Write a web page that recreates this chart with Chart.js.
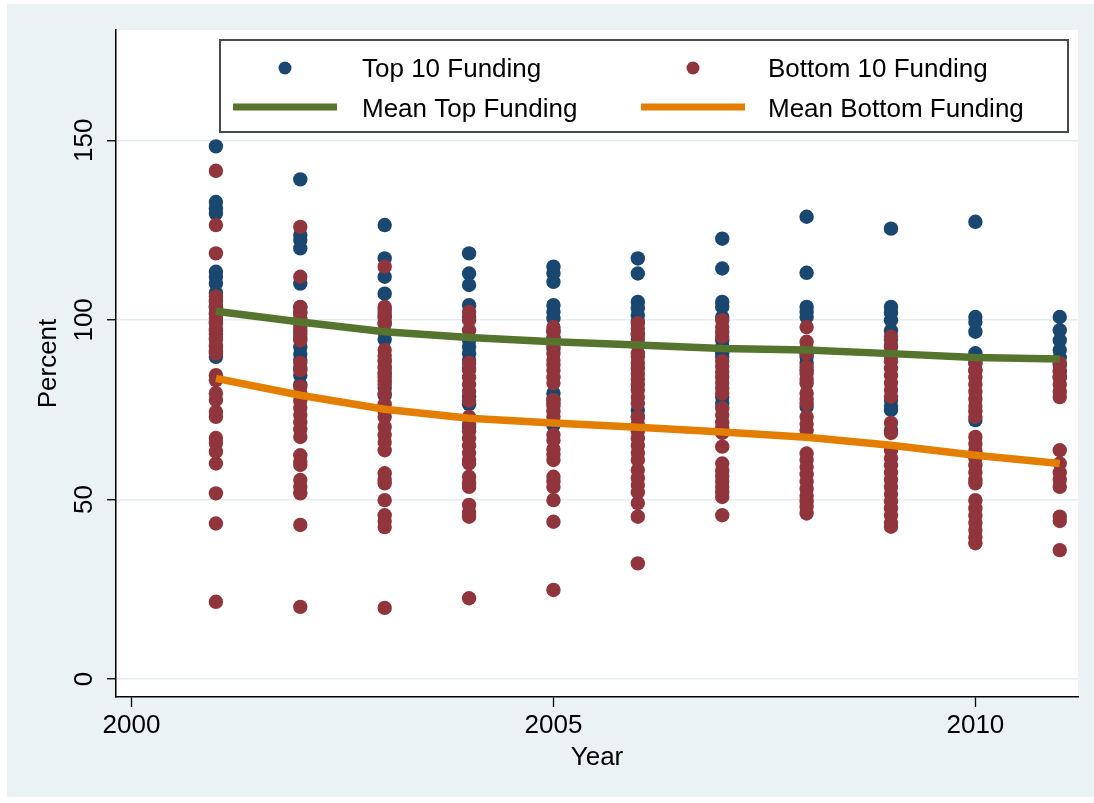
<!DOCTYPE html>
<html>
<head>
<meta charset="utf-8">
<script src="https://cdn.jsdelivr.net/npm/chart.js@4/dist/chart.umd.min.js"></script>
<style>
  html, body { margin: 0; padding: 0; background: #ffffff; }
  #wrap { width: 1094px; height: 803px; }
</style>
</head>
<body>
<div id="wrap"><canvas id="c" width="1094" height="803"></canvas></div>
<script>
// ---- Data ----
const years = [2001, 2002, 2003, 2004, 2005, 2006, 2007, 2008, 2009, 2010, 2011];

const topFunding = [
  [148.3, 132.8, 131.0, 129.6, 113.4, 112.0, 110.1, 107.5, 105.5, 103.5, 101.5, 99.5, 97.0, 95.0, 92.5, 91.1, 89.7],
  [139.1, 123.6, 122.2, 119.9, 110.1, 103.5, 102.0, 100.5, 99.0, 97.0, 95.0, 92.5, 90.5, 88.8, 86.5, 84.5, 82.0],
  [126.4, 117.1, 112.0, 107.3, 103.0, 101.0, 99.0, 96.5, 94.5, 88.8, 86.6, 85.0, 83.0, 81.0, 79.0],
  [118.5, 112.9, 109.7, 104.1, 100.8, 94.3, 92.5, 90.6, 88.8, 86.6, 78.6, 76.5, 70.2],
  [114.8, 112.9, 110.6, 104.1, 102.2, 100.4, 97.0, 95.0, 92.0, 79.6, 78.0, 76.8, 70.7],
  [117.1, 112.9, 105.0, 103.2, 101.3, 99.5, 96.0, 93.0, 74.9, 73.0],
  [122.6, 114.3, 105.0, 103.6, 100.8, 94.3, 92.5, 90.7, 89.7, 78.5, 76.7],
  [128.7, 113.1, 103.6, 102.2, 100.8, 90.7, 89.7, 88.0, 86.0, 75.8],
  [125.4, 103.6, 102.0, 99.9, 97.0, 94.5, 92.5, 90.0, 77.7, 76.0, 74.9, 69.3],
  [127.3, 100.8, 99.4, 96.7, 90.7, 89.7, 88.0, 86.0, 72.1],
  [100.8, 97.1, 94.3, 91.6, 89.5, 87.5, 85.5, 84.0]
];

const bottomFunding = [
  [141.5, 126.4, 118.5, 106.5, 105.0, 103.5, 102.0, 100.5, 99.0, 97.5, 96.0, 94.5, 93.0, 91.6, 90.6, 84.6, 83.2, 79.6, 77.7, 74.4, 73.0, 67.1, 65.7, 63.3, 60.0, 51.7, 43.3, 21.5],
  [125.9, 112.0, 103.6, 102.0, 100.0, 98.0, 96.0, 94.3, 88.0, 86.0, 81.4, 79.5, 77.5, 75.5, 73.5, 71.5, 69.5, 67.4, 62.3, 60.5, 59.6, 55.4, 53.5, 51.7, 42.9, 20.1],
  [114.8, 103.6, 102.0, 100.5, 99.0, 91.6, 90.0, 88.5, 87.0, 85.5, 84.0, 82.0, 79.6, 76.5, 74.5, 73.0, 70.2, 68.0, 66.0, 63.7, 57.3, 55.5, 54.5, 49.8, 45.6, 44.0, 42.3, 19.8],
  [102.2, 99.9, 97.1, 88.0, 86.0, 84.0, 82.0, 80.0, 77.5, 73.0, 71.0, 69.0, 67.0, 65.0, 63.0, 61.0, 60.0, 56.3, 54.5, 53.5, 48.5, 46.5, 45.2, 22.5],
  [98.0, 96.5, 95.0, 93.0, 90.6, 88.8, 87.5, 86.0, 84.0, 82.4, 77.7, 76.0, 74.5, 73.0, 68.0, 66.5, 64.0, 62.5, 61.0, 56.3, 55.0, 53.5, 49.8, 43.8, 24.8],
  [99.1, 97.5, 96.0, 94.5, 93.0, 90.7, 89.7, 88.0, 86.5, 85.0, 83.5, 82.0, 80.5, 78.5, 76.7, 73.0, 71.0, 69.0, 67.0, 65.0, 63.0, 61.0, 58.2, 56.0, 54.0, 52.0, 49.0, 45.2, 32.2],
  [99.9, 98.0, 96.5, 95.3, 88.5, 87.0, 85.5, 84.0, 82.5, 81.0, 79.5, 75.4, 73.5, 71.5, 70.0, 68.5, 64.7, 60.0, 58.0, 56.5, 55.0, 53.5, 52.0, 50.7, 45.6],
  [98.0, 93.9, 92.0, 90.6, 86.9, 85.0, 83.5, 82.3, 79.6, 78.0, 76.7, 73.0, 71.0, 69.3, 62.8, 61.0, 59.0, 57.0, 55.0, 53.0, 51.0, 49.5, 48.0, 46.1],
  [95.3, 93.0, 90.6, 88.5, 86.5, 84.5, 82.5, 80.5, 78.6, 71.3, 68.5, 63.7, 61.5, 59.5, 57.5, 55.5, 53.5, 51.5, 49.5, 47.5, 45.5, 43.5, 42.4],
  [87.9, 86.0, 84.0, 82.0, 80.0, 78.0, 76.0, 74.5, 73.0, 67.4, 65.5, 63.5, 61.5, 59.5, 57.5, 55.5, 54.5, 49.8, 47.5, 45.5, 43.5, 41.5, 39.5, 37.8],
  [87.9, 86.0, 84.0, 82.0, 80.0, 78.5, 63.7, 60.0, 57.5, 55.5, 53.5, 45.2, 44.0, 35.9]
];

const meanTop    = [102.4, 99.4, 96.7, 95.1, 93.9, 93.0, 92.0, 91.6, 90.6, 89.5, 89.1];
const meanBottom = [83.7, 79.0, 75.1, 72.6, 71.3, 70.1, 68.8, 67.3, 65.1, 62.3, 60.0];

const seriesLabels = ['Top 10 Funding', 'Bottom 10 Funding', 'Mean Top Funding', 'Mean Bottom Funding'];
const xTicks = [2000, 2005, 2010];
const yTicks = [0, 50, 100, 150];
const xTitle = 'Year';
const yTitle = 'Percent';

// ---- Styles ----
const NAVY = '#1a476f', MAROON = '#90353b', GREEN = '#55752f', ORANGE = '#e37e00';
const BG = '#eaf2f3';
const FONT = '"Liberation Sans", Arial, Helvetica, sans-serif';
Chart.defaults.font.family = FONT;
Chart.defaults.color = '#000';

const topPoints = years.flatMap((yr, i) => topFunding[i].map(v => ({ x: yr, y: v })));
const bottomPoints = years.flatMap((yr, i) => bottomFunding[i].map(v => ({ x: yr, y: v })));
const meanTopPoints = years.map((yr, i) => ({ x: yr, y: meanTop[i] }));
const meanBottomPoints = years.map((yr, i) => ({ x: yr, y: meanBottom[i] }));

const backgroundPlugin = {
  id: 'stataBackground',
  beforeDraw(chart) {
    const ctx = chart.ctx, a = chart.chartArea;
    ctx.save();
    ctx.fillStyle = '#ffffff';
    ctx.fillRect(0, 0, chart.width, chart.height);
    ctx.fillStyle = BG;
    ctx.fillRect(7, 4, chart.width - 7, 793);
    ctx.fillStyle = '#ffffff';
    ctx.fillRect(a.left, a.top, a.right - a.left, a.bottom - a.top);
    ctx.restore();
  }
};

const legendPlugin = {
  id: 'stataLegend',
  afterDraw(chart) {
    const ctx = chart.ctx;
    const ds = chart.data.datasets;
    ctx.save();
    ctx.fillStyle = '#ffffff';
    ctx.fillRect(220, 40, 848, 92);
    ctx.strokeStyle = '#4a4a4a';
    ctx.lineWidth = 2;
    ctx.strokeRect(220, 40, 848, 92);
    const cols = [{ mx: 285, tx: 362 }, { mx: 693, tx: 768 }];
    const rows = [{ my: 68, ty: 70 }, { my: 107, ty: 110 }];
    const layout = [[0, 1], [2, 3]];
    ctx.font = '26px ' + FONT;
    ctx.textBaseline = 'middle';
    ctx.textAlign = 'left';
    for (let r = 0; r < 2; r++) {
      for (let c = 0; c < 2; c++) {
        const d = ds[layout[r][c]];
        const { mx, tx } = cols[c];
        const { my, ty } = rows[r];
        if (d.showLine) {
          ctx.strokeStyle = d.borderColor;
          ctx.lineWidth = 7;
          ctx.beginPath();
          ctx.moveTo(mx - 52, my);
          ctx.lineTo(mx + 52, my);
          ctx.stroke();
        } else {
          ctx.fillStyle = d.backgroundColor;
          ctx.beginPath();
          ctx.arc(mx, my, 6.5, 0, Math.PI * 2);
          ctx.fill();
        }
        ctx.fillStyle = '#000';
        ctx.fillText(d.label, tx, ty);
      }
    }
    ctx.restore();
  }
};

new Chart(document.getElementById('c'), {
  type: 'scatter',
  data: {
    datasets: [
      { label: seriesLabels[0], data: topPoints, backgroundColor: NAVY, borderColor: NAVY,
        pointRadius: 7.2, borderWidth: 0, order: 3 },
      { label: seriesLabels[1], data: bottomPoints, backgroundColor: MAROON, borderColor: MAROON,
        pointRadius: 7.2, borderWidth: 0, order: 2 },
      { label: seriesLabels[2], data: meanTopPoints, showLine: true, borderColor: GREEN, backgroundColor: GREEN,
        borderWidth: 7.5, pointRadius: 0, tension: 0, order: 1 },
      { label: seriesLabels[3], data: meanBottomPoints, showLine: true, borderColor: ORANGE, backgroundColor: ORANGE,
        borderWidth: 7.5, pointRadius: 0, tension: 0, order: 0 }
    ]
  },
  options: {
    responsive: false,
    animation: false,
    devicePixelRatio: 1,
    layout: { padding: { left: 0, top: 30, right: 16, bottom: 0 }, autoPadding: false },
    plugins: { legend: { display: false }, tooltip: { enabled: false } },
    scales: {
      x: {
        type: 'linear',
        min: 1999.816,
        max: 2011.216,
        afterBuildTicks: s => { s.ticks = xTicks.map(v => ({ value: v })); },
        afterFit: s => { s.height = 106; },
        grid: { drawOnChartArea: false, drawTicks: true, tickLength: 10, tickColor: '#000', tickWidth: 1.3 },
        border: { display: true, color: '#000', width: 1.5 },
        ticks: { font: { size: 26 }, color: '#000', padding: 3, autoSkip: false, maxRotation: 0, minRotation: 0,
                 callback: v => String(v) },
        title: { display: true, text: xTitle, font: { size: 26 }, color: '#000', padding: { top: 0, bottom: 30 } }
      },
      y: {
        type: 'linear',
        min: -5,
        max: 180.7,
        afterBuildTicks: s => { s.ticks = yTicks.map(v => ({ value: v })); },
        afterFit: s => { s.width = 116; },
        grid: { color: '#e4eef0', lineWidth: 1.5, drawTicks: true, tickLength: 9, tickColor: '#000', tickWidth: 1.3 },
        border: { display: true, color: '#000', width: 1.5 },
        ticks: { font: { size: 26 }, color: '#000', padding: 0, autoSkip: false, minRotation: 90, maxRotation: 90,
                 crossAlign: 'center', callback: v => String(v) },
        title: { display: true, text: yTitle, font: { size: 26 }, color: '#000', padding: { top: 33, bottom: 0 } }
      }
    }
  },
  plugins: [backgroundPlugin, legendPlugin]
});
</script>
</body>
</html>
